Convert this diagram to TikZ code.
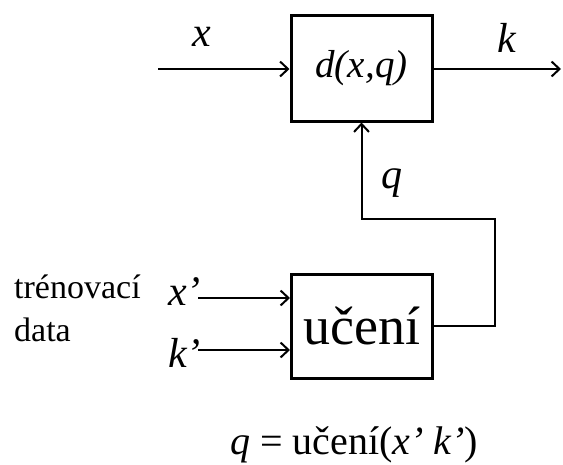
\documentclass[tikz,border=0pt]{standalone}
\usepackage{fontspec}
\setmainfont{Liberation Serif}
\usetikzlibrary{arrows.meta,positioning}
\newcommand{\SLab}{\fontsize{42}{46}\selectfont}
\newcommand{\SBox}{\fontsize{54}{60}\selectfont}
\newcommand{\SSide}{\fontsize{34}{38}\selectfont}
\newcommand{\SRule}{\fontsize{40}{44}\selectfont}

\begin{document}
\begin{tikzpicture}[x=1pt, y=-1pt,
  block/.style={draw, line width=3pt, minimum width=141pt,
                inner sep=0pt, align=center},
  sig/.style={-{Straight Barb[length=8pt,width=15pt]}, line width=2pt},
  lab/.style={inner sep=0pt, font=\SLab\itshape}
]
\useasboundingbox (0,0) rectangle (563,464);

% Blocks.
\node[block, minimum height=106pt, font=\fontsize{39}{43}\selectfont\itshape]
  (dec) at (361.5,68) {d(x,q)};
\node[block, minimum height=104pt, font=\SBox] (learn) at (362,326) {učení};

% Decision path.
\coordinate (xin) at (158,69);
\coordinate (kout) at (561,69);
\draw[sig] (xin) -- (dec.west |- xin);
\draw[sig] (dec.east |- kout) -- (kout);
\node[lab, anchor=base] (xlab) at (202,46) {x};
\node[lab, anchor=base] (klab) at (507,52) {k};

% Feedback from learning.
\coordinate (fb) at (495,219);
\draw[sig] (learn.east) -| (fb) -| (dec.south);
\node[lab, anchor=base] (qlab) at (392,188) {q};

% Training data.
\coordinate (xtin) at (198,298);
\coordinate (ktin) at (198,350);
\draw[sig] (xtin) -- (learn.west |- xtin);
\draw[sig] (ktin) -- (learn.west |- ktin);
\node[lab, anchor=base east] (xtlab) at (201,305) {x’};
\node[lab, anchor=base east] (ktlab) at (201,367) {k’};
\node[inner sep=0pt, anchor=base west, font=\SSide] (train) at (14,298) {trénovací};
\node[inner sep=0pt, anchor=base west, font=\SSide] (data) at (14,341) {data};

% Learning rule.
\node[inner sep=0pt, anchor=base, font=\SRule] (rule) at (354,454)
  {\textit{q} = učení(\textit{x’ k’})};
\end{tikzpicture}
\end{document}
